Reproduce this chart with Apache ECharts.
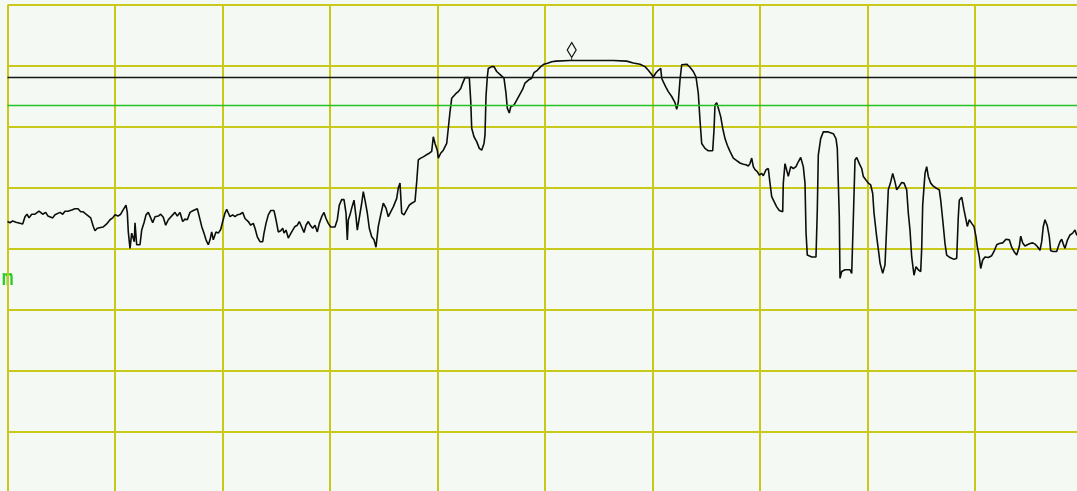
<!DOCTYPE html>
<html>
<head>
<meta charset="utf-8">
<script src="https://cdn.jsdelivr.net/npm/echarts@6/dist/echarts.min.js"></script>
<style>
  html, body { margin: 0; padding: 0; background: #f4f9f4; overflow: hidden; }
  /* The screen extends slightly past the visible window on the right and bottom */
  #chart { width: 1100px; height: 510px; }
</style>
</head>
<body>
<div id="chart"></div>
<script>
// Sweep bins (0..1075 across 10 divisions) and measured levels in dB (0 = reference, 10 dB/div)
const traceBins = [
  0, 2.5, 5.2, 8.5, 10.5, 15.2, 17.5, 19.5, 21.5, 24.2,
  27.5, 29.2, 31.5, 35.2, 38.2, 40.5, 42.5, 45.2, 47.5, 49.5,
  52.5, 55.2, 57.5, 60.5, 64.2, 67.5, 70.5, 73.2, 75.8, 78.5,
  80.5, 83.2, 85.8, 87.5, 89.8, 95.5, 99.2, 102.5, 105.2, 107.5,
  110.5, 113.2, 115.2, 116.5, 118.5, 119.8, 120.8, 122.5, 124.2, 125.8,
  126.8, 127.5, 129.2, 132.5, 134.2, 136.5, 138.5, 140.8, 143.2, 145.2,
  147.5, 150.8, 153.2, 155.8, 158.2, 160.8, 162.5, 165.2, 167.5, 169.8,
  172.5, 175.2, 177.5, 179.8, 182.5, 185.8, 189.8, 191.8, 194.2, 196.5,
  198.5, 200.8, 202.5, 204.2, 205.8, 208.5, 210.8, 213.2, 215.2, 217.5,
  219.2, 220.8, 222.5, 225.2, 227.5, 229.8, 232.5, 235.2, 237.5, 240.8,
  243.2, 245.8, 247.5, 249.8, 252.5, 255.2, 256.5, 258.5, 260.8, 263.2,
  266.5, 268.5, 270.8, 273.2, 275.2, 276.5, 278.5, 280.8, 282.5, 285.2,
  287.5, 289.8, 291.8, 294.2, 296.5, 298.5, 300.8, 303.2, 305.2, 307.5,
  309.8, 311.8, 314.2, 316.5, 318.5, 320.8, 323.2, 327.5, 329.8, 331.8,
  334.2, 336.5, 338.5, 339.8, 340.8, 342.5, 344.2, 346.5, 348.5, 349.8,
  351.8, 354.2, 355.8, 357.5, 359.8, 361.8, 364.2, 366.5, 368.5, 370.8,
  373.2, 375.8, 378.5, 380.8, 383.2, 385.8, 389.2, 390.8, 392.5, 394.2,
  396.5, 399.2, 401.8, 404.2, 407.5, 409.2, 410.8, 413.2, 415.8, 418.5,
  421.8, 424.2, 425.8, 427.5, 429.8, 430.8, 433.2, 435.8, 439.2, 440.8,
  442.5, 444.2, 445.8, 448.5, 450.8, 453.2, 455.2, 457.5, 461.8, 463.2,
  464.2, 466.5, 469.2, 471.8, 474.2, 476.5, 477.5, 478.5, 479.8, 480.8,
  484.2, 486.5, 489.2, 493.2, 496.5, 498.5, 499.8, 501.8, 503.2, 506.5,
  509.2, 511.8, 515.2, 517.5, 519.2, 521.8, 524.2, 526.5, 529.8, 533.2,
  536.5, 540.8, 544.2, 548.5, 562.5, 579.2, 605.8, 619.2, 625.8, 632.5,
  637.5, 640.8, 644.2, 645.8, 648.5, 650.8, 653.2, 654.2, 655.8, 658.5,
  660.8, 664.2, 667.5, 669.2, 670.8, 672.5, 674.2, 679.2, 682.5, 685.8,
  688.5, 690.8, 692.5, 694.2, 697.5, 700.8, 705.2, 706.5, 707.5, 709.2,
  710.8, 713.2, 715.2, 717.5, 719.8, 722.5, 725.8, 729.2, 732.5, 735.8,
  738.5, 740.8, 742.5, 744.2, 745.8, 747.5, 749.8, 751.8, 754.2, 755.8,
  758.5, 760.8, 762.5, 764.2, 766.5, 769.2, 771.8, 775.2, 775.8, 777.5,
  779.2, 780.8, 783.2, 785.8, 788.5, 790.8, 793.2, 795.8, 797.5, 798.5,
  799.8, 804.2, 808.5, 809.8, 810.8, 813.2, 815.8, 820.8, 825.8, 828.5,
  829.8, 831.8, 832.5, 834.2, 837.5, 842.5, 844.2, 845.8, 847.5, 849.2,
  851.8, 854.2, 855.8, 858.5, 860.8, 863.2, 865.2, 866.5, 869.2, 871.8,
  872.5, 875.2, 877.5, 879.2, 880.8, 883.2, 885.2, 887.5, 889.2, 891.8,
  894.2, 896.5, 899.2, 900.8, 902.5, 904.2, 906.5, 908.5, 910.8, 913.2,
  914.2, 915.2, 917.5, 919.2, 920.8, 923.2, 925.8, 928.5, 931.8, 933.2,
  935.2, 937.5, 939.2, 942.5, 946.5, 949.2, 950.8, 951.8, 954.2, 956.5,
  958.5, 959.8, 961.8, 964.2, 966.5, 968.5, 969.8, 971.8, 973.2, 975.2,
  977.5, 980.8, 984.2, 986.5, 989.2, 991.8, 995.2, 998.5, 1001.8, 1004.2,
  1006.5, 1009.2, 1011.8, 1013.2, 1015.2, 1017.5, 1019.8, 1022.5, 1025.2, 1027.5,
  1029.8, 1032.5, 1034.2, 1035.8, 1037.5, 1039.8, 1041.8, 1043.2, 1045.8, 1049.2,
  1050.8, 1052.5, 1054.2, 1055.8, 1057.5, 1059.8, 1062.5, 1065.2, 1067.5, 1069.2,
  1075
];

const traceLevels = [
  -35.5, -35.7, -35.4, -35.6, -35.9, -35.9, -34.7, -34.3, -34.9, -34.3,
  -34.3, -34.0, -33.8, -34.3, -34.0, -34.6, -34.3, -34.9, -34.4, -34.6,
  -34.0, -34.3, -33.8, -33.8, -33.6, -33.4, -33.4, -33.9, -33.9, -34.3,
  -34.1, -34.9, -36.3, -37.0, -36.6, -36.4, -35.9, -35.2, -34.9, -34.4,
  -34.6, -34.3, -33.7, -34.0, -32.8, -34.0, -37.2, -39.9, -37.4, -37.2,
  -38.8, -35.7, -39.3, -39.3, -36.9, -35.7, -34.4, -34.0, -34.9, -35.7,
  -34.7, -34.6, -34.3, -34.8, -36.1, -35.2, -35.0, -34.4, -34.0, -34.6,
  -34.0, -35.5, -35.1, -35.2, -34.0, -33.7, -33.4, -34.7, -36.3, -37.4,
  -38.5, -39.3, -38.5, -37.2, -38.5, -37.2, -37.4, -36.8, -35.5, -34.1,
  -33.5, -34.1, -34.7, -34.4, -34.7, -34.4, -34.3, -34.0, -35.0, -35.5,
  -36.1, -35.8, -36.6, -38.0, -38.8, -38.8, -37.4, -35.8, -34.4, -33.7,
  -33.7, -35.2, -37.2, -37.0, -36.6, -37.4, -36.9, -38.2, -37.7, -36.9,
  -36.3, -36.1, -35.5, -36.4, -37.3, -36.1, -35.5, -36.2, -36.6, -36.1,
  -37.2, -35.8, -34.7, -34.0, -35.0, -35.8, -36.4, -36.4, -35.2, -32.8,
  -31.9, -31.9, -34.1, -38.5, -35.2, -34.4, -33.3, -32.0, -34.7, -36.9,
  -36.9, -32.5, -30.6, -32.0, -34.1, -36.6, -38.0, -38.5, -39.7, -36.3,
  -34.4, -32.5, -33.3, -34.7, -33.9, -33.1, -31.7, -30.0, -29.2, -34.1,
  -34.4, -33.6, -32.8, -32.5, -32.2, -29.0, -25.4, -25.1, -24.9, -24.6,
  -24.3, -24.0, -21.6, -22.7, -23.8, -25.1, -24.3, -23.8, -22.7, -20.2,
  -17.5, -15.3, -15.3, -14.5, -14.2, -13.7, -12.8, -11.9, -11.9, -15.6,
  -20.2, -21.6, -22.4, -23.5, -23.8, -22.7, -21.3, -15.0, -11.8, -10.4,
  -10.1, -10.1, -10.9, -11.5, -12.0, -14.5, -16.9, -17.7, -16.7, -16.4,
  -15.6, -14.8, -13.8, -12.8, -12.6, -12.2, -12.0, -11.1, -10.7, -10.1,
  -9.7, -9.5, -9.3, -9.2, -9.1, -9.1, -9.1, -9.2, -9.5, -9.7,
  -10.1, -10.7, -11.4, -11.8, -11.1, -10.7, -10.4, -12.0, -12.6, -13.5,
  -14.2, -15.0, -16.0, -17.1, -15.9, -12.3, -9.8, -9.7, -10.2, -10.9,
  -11.8, -14.5, -18.9, -22.7, -23.5, -23.9, -23.9, -20.5, -16.4, -16.0,
  -16.9, -18.3, -20.2, -21.9, -23.0, -24.0, -25.1, -25.5, -25.9, -26.1,
  -26.2, -26.4, -26.0, -25.1, -26.5, -27.0, -27.3, -27.9, -27.6, -28.0,
  -27.0, -26.8, -29.2, -31.4, -32.2, -33.1, -33.7, -33.9, -29.2, -26.0,
  -25.7, -28.1, -26.5, -26.8, -26.5, -25.7, -25.0, -26.5, -29.2, -37.2,
  -41.0, -41.3, -41.3, -33.6, -24.6, -21.9, -20.8, -20.8, -21.1, -21.9,
  -23.5, -34.7, -44.8, -43.7, -43.4, -43.4, -44.0, -35.2, -25.4, -25.0,
  -26.0, -26.8, -28.1, -28.7, -29.2, -29.5, -30.9, -34.1, -38.0, -41.3,
  -42.3, -44.0, -42.6, -36.3, -30.3, -29.0, -27.6, -29.0, -30.3, -29.7,
  -29.1, -29.2, -30.3, -34.1, -36.9, -41.3, -44.3, -42.9, -43.4, -43.7,
  -39.9, -32.8, -27.6, -26.5, -28.1, -29.2, -29.7, -30.0, -30.3, -32.0,
  -35.2, -39.1, -41.0, -41.4, -41.7, -41.5, -34.7, -32.0, -31.5, -33.6,
  -35.2, -36.3, -35.2, -35.8, -36.3, -38.0, -39.6, -41.3, -43.2, -41.8,
  -41.3, -41.4, -41.1, -40.4, -39.3, -39.1, -39.0, -38.4, -38.5, -39.7,
  -40.4, -41.0, -39.6, -37.9, -39.0, -39.5, -39.3, -39.1, -39.0, -39.2,
  -39.6, -40.2, -38.8, -36.3, -35.2, -36.2, -38.0, -40.3, -40.4, -40.4,
  -39.6, -38.8, -38.4, -39.2, -39.9, -38.6, -37.7, -37.4, -36.9, -37.7,
  -37.5
];

// Horizontal reference lines (dB)
const displayLineLevel = -11.9;
const thresholdLevel = -16.5;

// Peak marker position
const peakBin = 564.2;
const peakLevel = -9.1;

// Screen scale: 10 horizontal divisions, 8 vertical divisions of 10 dB
const binMax = 1075;
const binStep = 107.5;
const levelMin = -80;
const levelMax = 0;
const levelStep = 10;

const GRID_COLOR = '#c9c91c';
const TRACE_COLOR = '#0d0d0d';
const LINE_GREEN = '#22c322';

const trace = traceBins.map((b, i) => [b, traceLevels[i]]);

const chart = echarts.init(document.getElementById('chart'), null, { renderer: 'canvas' });

chart.setOption({
  animation: false,
  backgroundColor: '#f4f9f4',
  grid: { left: 7.5, top: 5, width: 1075, height: 488, containLabel: false },
  xAxis: {
    type: 'value',
    min: 0,
    max: binMax,
    interval: binStep,
    axisLine: { show: false },
    axisTick: { show: false },
    axisLabel: { show: false },
    splitLine: { show: true, lineStyle: { color: GRID_COLOR, width: 2 } }
  },
  yAxis: {
    type: 'value',
    min: levelMin,
    max: levelMax,
    interval: levelStep,
    axisLine: { show: false },
    axisTick: { show: false },
    axisLabel: { show: false },
    splitLine: { show: true, lineStyle: { color: GRID_COLOR, width: 2 } }
  },
  graphic: [{
    type: 'text',
    x: 2,
    y: 269,
    scaleX: 1.05,
    scaleY: 1.2,
    style: {
      text: 'm',
      x: 0,
      y: 0,
      fill: '#26cc26',
      font: 'bold 18px "DejaVu Sans Mono"'
    }
  }],
  series: [{
    type: 'line',
    data: trace,
    showSymbol: false,
    clip: true,
    lineStyle: { color: TRACE_COLOR, width: 1.6 },
    markLine: {
      silent: true,
      symbol: ['none', 'none'],
      label: { show: false },
      data: [
        { yAxis: displayLineLevel, lineStyle: { color: '#151515', width: 1.4, type: 'solid' } },
        { yAxis: thresholdLevel, lineStyle: { color: LINE_GREEN, width: 1.4, type: 'solid' } }
      ]
    },
    markPoint: {
      silent: true,
      symbol: 'path://M4.5,0L9,7.5L4.5,15L0,7.5ZM4.5,15L4.5,18',
      symbolSize: [9, 18],
      symbolOffset: [0, -9],
      label: { show: false },
      itemStyle: { color: 'rgba(0,0,0,0)', borderColor: '#111', borderWidth: 1.2 },
      data: [{ coord: [peakBin, peakLevel] }]
    }
  }]
});
</script>
</body>
</html>
